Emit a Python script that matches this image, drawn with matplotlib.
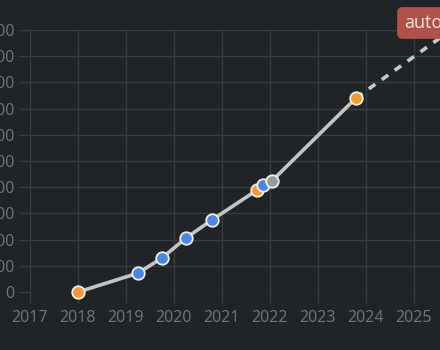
import matplotlib
matplotlib.use('Agg')
import matplotlib.pyplot as plt

# data
years = [2018.0, 2019.25, 2019.75, 2020.25, 2020.79, 2021.73, 2021.85, 2022.04, 2023.79]
values = [0, 72, 130, 206, 275, 389, 408, 424, 740]
colors = ['#f29b2c', '#4a86e8', '#4a86e8', '#4a86e8', '#4a86e8', '#f29b2c', '#4a86e8', '#9a9a9a', '#f29b2c']
proj_years = [2023.79, 2026.0]
proj_values = [740, 1030]
x_ticks = list(range(2017, 2026))
y_ticks = list(range(0, 1001, 100))
badge = 'automatic'

bg = '#212427'
grid_c = '#3a3d40'
text_c = '#74777a'

plt.rcParams['font.family'] = ['Open Sans', 'DejaVu Sans']
fig = plt.figure(figsize=(4.4, 3.5), dpi=100, facecolor=bg)
ax = fig.add_axes([30 / 440, 1 - 292 / 350, 1 - 30 / 440, (292 - 30) / 350])
ax.set_facecolor(bg)

ax.plot(proj_years, proj_values, color='#c8c8c8', lw=2.6, ls=(0, (2.2, 2.2)), zorder=2)
ax.plot(years, values, color='#c4c4c4', lw=2.6, zorder=3, solid_capstyle='round')
for x, y, c in zip(years, values, colors):
    ax.plot(x, y, 'o', ms=9, mfc=c, mec='#eeeeee', mew=1.3, zorder=4, clip_on=False)

ax.set_xlim(2017, 2017 + 410 / 48)
ax.set_ylim(0, 1000)
ax.set_xticks(x_ticks)
ax.set_yticks(y_ticks)
ax.grid(True, color=grid_c, lw=1)
ax.set_axisbelow(True)
for s in ax.spines.values():
    s.set_visible(False)
ax.tick_params(colors=grid_c, labelcolor=text_c, length=8, width=1, labelsize=11.5)
ax.tick_params(axis='x', pad=5)
ax.tick_params(axis='y', pad=3)

fig.text(404 / 440, 1 - 23 / 350, badge, color='#f3e4e0', fontsize=13, va='center', ha='left',
         bbox=dict(boxstyle='round,pad=0.38,rounding_size=0.3', fc='#b0524a', ec='none'))

fig.savefig('out.png', dpi=100, facecolor=bg)
